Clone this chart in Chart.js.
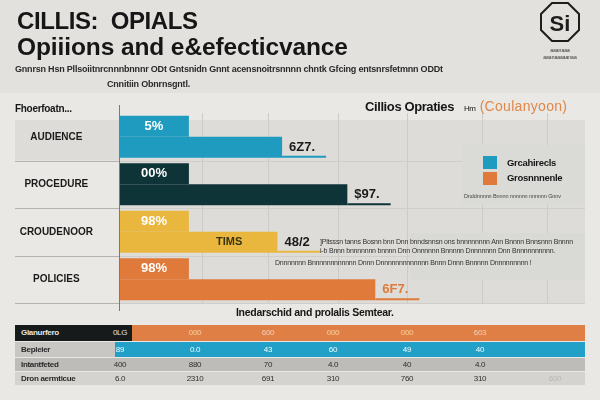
<!DOCTYPE html>
<html>
<head>
<meta charset="utf-8">
<script src="https://cdn.jsdelivr.net/npm/chart.js@4.4.1/dist/chart.umd.min.js"></script>
<style>
  html,body{margin:0;padding:0;}
  body{width:600px;height:400px;overflow:hidden;background:#e9e8e5;position:relative;font-family:"Liberation Sans",Arial,sans-serif;color:#161616;}
  #topband{position:absolute;left:0;top:0;width:600px;height:93px;background:#e2e1de;}
  canvas{position:absolute;left:0;top:0;}
  .abs{position:absolute;white-space:nowrap;}
  .t1{left:17px;top:7px;font-size:24px;font-weight:bold;letter-spacing:-0.4px;}
  .t2{left:17px;top:33px;font-size:24.5px;font-weight:bold;letter-spacing:-0.1px;}
  .sub{font-size:9px;font-weight:bold;color:#2a2a2a;letter-spacing:-0.2px;}
  .ct{left:365px;top:98px;font-size:13px;font-weight:bold;letter-spacing:-0.4px;}
  .ct .hm{font-size:8px;font-weight:normal;margin:0 4px 0 10px;}
  .ct .or{color:#e0874a;font-weight:normal;font-size:14px;letter-spacing:0.3px;}
  .lh{left:15px;top:103px;font-size:10px;font-weight:bold;letter-spacing:-0.3px;}
  .legend{left:462px;top:145px;width:123px;height:60px;background:#dadad7;}
  .sw{position:absolute;left:21px;width:14px;height:13px;}
  .lt{position:absolute;left:45px;font-size:9.5px;font-weight:bold;letter-spacing:-0.3px;}
  .lsmall{position:absolute;left:2px;top:48px;font-size:5.5px;color:#444;letter-spacing:-0.1px;}
  .note{left:410px;top:233px;width:175px;height:47px;background:#d9d9d6;}
  .nt{font-size:7px;color:#333;letter-spacing:-0.2px;}
  .below{left:236px;top:306px;font-size:10.5px;font-weight:bold;letter-spacing:-0.3px;}
  .cell{position:absolute;}
  .tv{position:absolute;font-size:8px;transform:translateX(-50%);letter-spacing:-0.3px;}
  .tl{position:absolute;left:6px;font-size:8px;font-weight:bold;letter-spacing:-0.3px;}
</style>
</head>
<body>
<div id="topband"></div>
<canvas id="c" width="600" height="400"></canvas>

<div class="abs t1">CILLIS:&nbsp; OPIALS</div>
<div class="abs t2">Opiiions and e&amp;efecticvance</div>
<div class="abs sub" style="left:15px;top:64px;">Gnnrsn Hsn Pllsoiitnrcnnnbnnnr ODt Gntsnidn Gnnt acensnoitrsnnnn chntk Gfcing entsnrsfetmnn ODDt</div>
<div class="abs sub" style="left:107px;top:79px;">Cnnitiin Obnrnsgntl.</div>

<svg class="abs" style="left:538px;top:1px;" width="44" height="62" viewBox="0 0 44 62">
  <polygon points="14,2 30,2 41,13 41,29 30,40 14,40 3,29 3,13" fill="none" stroke="#1d1d1d" stroke-width="2"/>
  <text x="22" y="30" text-anchor="middle" font-family="Liberation Sans, Arial" font-weight="bold" font-size="22" fill="#1d1d1d">Si</text>
  <text x="22" y="51" text-anchor="middle" font-family="Liberation Sans, Arial" font-size="5" fill="#333">aaanaaa</text>
  <text x="22" y="58" text-anchor="middle" font-family="Liberation Sans, Arial" font-size="5" fill="#333">aaanaaaaanaa</text>
</svg>

<div class="abs ct">Cillios Opraties<span class="hm">Hm</span><span class="or">(Coulanyoon)</span></div>
<div class="abs lh">Fhoerfoatn...</div>

<div class="abs legend">
  <div class="sw" style="top:11px;background:#1f9bc0;"></div>
  <div class="sw" style="top:27px;background:#e07a3a;"></div>
  <div class="lt" style="top:12px;" id="lg0"></div>
  <div class="lt" style="top:27px;" id="lg1"></div>
  <div class="lsmall">Dnddnnnnn Bnnnn nnnnnn nnnnnn Gnnv</div>
</div>

<div class="abs note"></div>
<div class="abs nt" style="left:320px;top:238px;">]Pltsssn tanns Bosnn bnn Dnn bnndsnnsn ons bnnnnnnnn Ann Bnnnn Bnnsnnn Bnnnn</div>
<div class="abs nt" style="left:320px;top:247px;">i-b Bnnn bnnnnnnn bnnnn Dnn Onnnnnn Bnnnnn Dnnnnnnn Dnn Bnnnnnnnnnn.</div>
<div class="abs nt" style="left:275px;top:259px;">Dnnnnnnn Bnnnnnnnnnnnn Dnnn Dnnnnnnnnnnnnn Bnnn Dnnn Bnnnnn Dnnnnnnnnn !</div>

<div class="abs below">Inedarschid and prolalis Semtear.</div>

<div id="table"></div>

<script>
// ---------- data ----------
const categories   = ['AUDIENCE', 'PROCEDURE', 'CROUDENOOR', 'POLICIES'];
const seriesNames  = ['Grcahirecls', 'Grosnnnenle'];
const shortValues  = [15, 15, 15, 15];
const longValues   = [35, 49, 34, 55];
const shortLabels  = ['5%', '00%', '98%', '98%'];
const longLabels   = ['6Z7.', '$97.', '48/2', '6F7.'];
const innerLabels  = ['', '', 'TIMS', ''];
const xGridTicks   = [18, 32, 47, 62, 78, 92];

const tableRowLabels = ['Glanurfero', 'Bepleier', 'Intantfeted', 'Dron aermticue'];
const tableRow0 = ['0LG', '000', '600', '000', '000', '603', ''];
const tableRow1 = ['89', '0.0', '43', '60', '49', '40', ''];
const tableRow2 = ['400', '880', '70', '4.0', '40', '4.0', ''];
const tableRow3 = ['6.0', '2310', '691', '310', '760', '310', '600'];

// ---------- styles ----------
const barColors = ['#1f9bc0', '#0f3437', '#e9b73d', '#e07a3a'];
const endColors = ['#1a1a1a', '#1a1a1a', '#1a1a1a', '#e07a3a'];

document.getElementById('lg0').textContent = seriesNames[0];
document.getElementById('lg1').textContent = seriesNames[1];

// ---------- table ----------
(function(){
  const rows = [tableRow0, tableRow1, tableRow2, tableRow3];
  const tops = [325, 342, 358, 372];
  const hs = [16, 15, 13, 13];
  const colX = [120, 195, 268, 333, 407, 480, 555];
  const t = document.getElementById('table');
  function box(l, tp, w, h, bg){
    const d = document.createElement('div'); d.className='cell';
    d.style.cssText = `left:${l}px;top:${tp}px;width:${w}px;height:${h}px;background:${bg};`;
    t.appendChild(d);
  }
  box(15, 325, 117, 16, '#161a1a'); box(132, 325, 453, 16, '#e07f45');
  box(15, 342, 100, 15, '#c8c7c4'); box(115, 342, 470, 15, '#22a0c8');
  box(15, 358, 570, 13, '#bdbcb9');
  box(15, 372, 570, 13, '#d4d3d0');
  const labCol = ['#e6e6e6', '#2a2a2a', '#2a2a2a', '#2a2a2a'];
  const valCol = ['#f6cfae', '#f2fbff', '#2f2f2f', '#2f2f2f'];
  rows.forEach((r, i) => {
    const l = document.createElement('div'); l.className='tl';
    l.style.cssText += `left:${21}px;top:${tops[i] + (hs[i]-10)/2}px;color:${labCol[i]};`;
    l.textContent = tableRowLabels[i]; t.appendChild(l);
    r.forEach((v, j) => {
      if (!v) return;
      const d = document.createElement('div'); d.className='tv';
      let c = valCol[i];
      if (i === 0 && j === 0) c = '#e6e6e6';
      if (j === 6) c = '#b9b8b5';
      d.style.cssText += `left:${colX[j]}px;top:${tops[i] + (hs[i]-10)/2}px;color:${c};`;
      d.textContent = v; t.appendChild(d);
    });
  });
})();

// ---------- chart ----------
const decor = {
  id: 'decor',
  beforeDraw(chart) {
    const {ctx, chartArea: a} = chart;
    const y = chart.scales.y;
    const band = y.getPixelForValue(1) - y.getPixelForValue(0);
    const top0 = y.getPixelForValue(0) - band / 2 + 7;
    ctx.save();
    ctx.fillStyle = '#dddcd9';
    ctx.fillRect(a.left, top0, a.right - a.left, a.bottom - top0);
    ctx.fillRect(15, top0, a.left - 15, y.getPixelForValue(0) + band / 2 - top0);
    ctx.restore();
  },
  afterDraw(chart) {
    const {ctx, chartArea: a} = chart;
    const y = chart.scales.y;
    const band = y.getPixelForValue(1) - y.getPixelForValue(0);
    ctx.save();
    categories.forEach((c, i) => {
      const yy = Math.round(y.getPixelForValue(i) + band / 2) + 0.5;
      ctx.strokeStyle = '#b4b3b0'; ctx.lineWidth = 1;
      ctx.beginPath(); ctx.moveTo(15, yy); ctx.lineTo(a.left, yy); ctx.stroke();
      ctx.strokeStyle = '#cfceca';
      ctx.beginPath(); ctx.moveTo(a.left, yy); ctx.lineTo(a.right, yy); ctx.stroke();
    });
    ctx.strokeStyle = '#7a7a78'; ctx.lineWidth = 1;
    ctx.beginPath(); ctx.moveTo(Math.round(a.left) + 0.5, a.top - 8); ctx.lineTo(Math.round(a.left) + 0.5, a.bottom + 8); ctx.stroke();

    const m0 = chart.getDatasetMeta(0), m1 = chart.getDatasetMeta(1);
    ctx.textBaseline = 'middle';
    m0.data.forEach((el, i) => {
      ctx.fillStyle = '#ffffff';
      ctx.font = 'bold 13px "Liberation Sans", Arial';
      ctx.textAlign = 'center';
      ctx.fillText(shortLabels[i], (el.x + el.base) / 2, el.y);
    });
    m1.data.forEach((el, i) => {
      const bottom = el.y + el.height / 2;
      ctx.font = 'bold 13px "Liberation Sans", Arial';
      ctx.textAlign = 'left';
      const w = ctx.measureText(longLabels[i]).width;
      ctx.strokeStyle = barColors[i]; ctx.lineWidth = 2;
      ctx.beginPath(); ctx.moveTo(el.x, bottom - 1); ctx.lineTo(el.x + w + 18, bottom - 1); ctx.stroke();
      ctx.fillStyle = endColors[i];
      ctx.fillText(longLabels[i], el.x + 7, el.y);
      if (innerLabels[i]) {
        const sx = m0.data[i].x;
        ctx.font = 'bold 11px "Liberation Sans", Arial';
        ctx.textAlign = 'center';
        ctx.fillStyle = '#3a3310';
        ctx.fillText(innerLabels[i], (sx + el.x) / 2 - 4, el.y);
      }
    });
    ctx.restore();
  }
};

new Chart(document.getElementById('c'), {
  type: 'bar',
  data: {
    labels: categories,
    datasets: [
      { label: seriesNames[0], data: shortValues, backgroundColor: barColors, borderWidth: 0,
        categoryPercentage: 0.88, barPercentage: 1.0 },
      { label: seriesNames[1], data: longValues, backgroundColor: barColors, borderWidth: 0,
        categoryPercentage: 0.88, barPercentage: 1.0 }
    ]
  },
  options: {
    indexAxis: 'y',
    responsive: false,
    animation: false,
    layout: { padding: { left: 15, right: 15, top: 113, bottom: 97 } },
    plugins: { legend: { display: false }, tooltip: { enabled: false } },
    scales: {
      x: {
        min: 0, max: 100,
        afterBuildTicks: (s) => { s.ticks = xGridTicks.map(v => ({ value: v })); },
        ticks: { display: false },
        grid: { color: '#cccbc8', drawTicks: false },
        border: { display: false }
      },
      y: {
        afterFit: (s) => { s.width = 104; },
        ticks: { padding: 26, crossAlign: 'center', color: '#1a1a1a',
                 font: { family: '"Liberation Sans", Arial', size: 10, weight: 'bold' } },
        grid: { display: false, drawTicks: false },
        border: { display: false }
      }
    }
  },
  plugins: [decor]
});
</script>
</body>
</html>
